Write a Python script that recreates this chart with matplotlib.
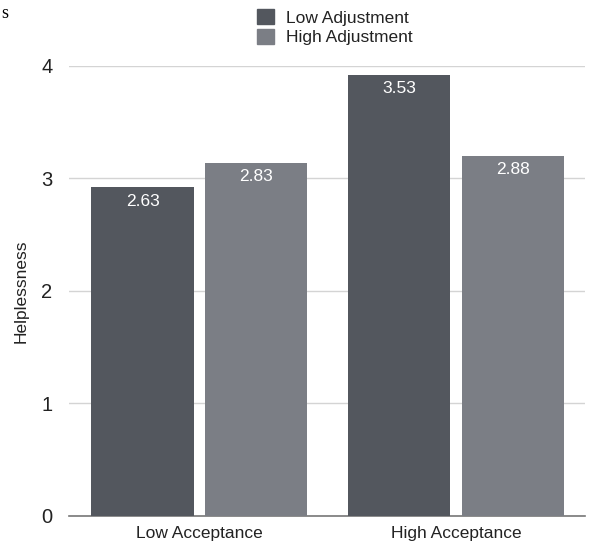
import numpy as np
import matplotlib.pyplot as plt
from matplotlib.patches import Patch

plt.rcParams['font.family'] = ['Liberation Sans', 'DejaVu Sans']

groups = ['Low Acceptance', 'High Acceptance']
series = ['Low Adjustment', 'High Adjustment']
# bar heights as drawn in the picture, and the numbers printed on them
heights_low = [2.92, 3.92]
heights_high = [3.14, 3.20]
labels_low = ['2.63', '3.53']
labels_high = ['2.83', '2.88']
colors = ['#53575e', '#7b7e85']


def main():
    fig = plt.figure(figsize=(5.96, 5.47), dpi=100)
    ax = fig.add_axes([0.1158, 0.0567, 0.8657, 0.8227])

    x = np.arange(len(groups))
    w = 0.397
    off = w / 2 + 0.0215

    b1 = ax.bar(x - off, heights_low, w, color=colors[0], zorder=3)
    b2 = ax.bar(x + off, heights_high, w, color=colors[1], zorder=3)

    for bars, labs in [(b1, labels_low), (b2, labels_high)]:
        for rect, lab in zip(bars, labs):
            ax.annotate(lab, (rect.get_x() + rect.get_width() / 2, rect.get_height()),
                        xytext=(0, -10), textcoords='offset points',
                        ha='center', va='center', color='white', fontsize=12.5, zorder=4)

    ax.set_xlim(-0.506, 1.502)
    ax.set_ylim(0, 4)
    ax.set_yticks([0, 1, 2, 3, 4])
    ax.set_xticks(x)
    ax.set_xticklabels(groups, fontsize=12.5, color='#222222')
    ax.tick_params(axis='y', length=0, labelsize=14.5, pad=12, labelcolor='#222222')
    ax.tick_params(axis='x', length=0, pad=7)
    ax.yaxis.grid(True, color='#d4d4d4', linewidth=1, zorder=0)
    for s in ['top', 'right', 'left']:
        ax.spines[s].set_visible(False)
    ax.spines['bottom'].set_color('#777777')
    ax.spines['bottom'].set_linewidth(1.2)
    ax.set_ylabel('Helplessness', fontsize=12.5, labelpad=9, color='#222222')

    handles = [Patch(color=c) for c in colors]
    fig.legend(handles, series, loc='upper center', bbox_to_anchor=(0.562, 1.012),
               frameon=False, fontsize=12.5, handlelength=0.95, handleheight=0.95,
               handletextpad=0.7, labelspacing=0.2, labelcolor='#222222')

    fig.text(0.002, 0.975, 's', family='Liberation Serif', fontsize=13, va='center')

    fig.savefig('out.png', dpi=100)


if __name__ == "__main__":
    main()
